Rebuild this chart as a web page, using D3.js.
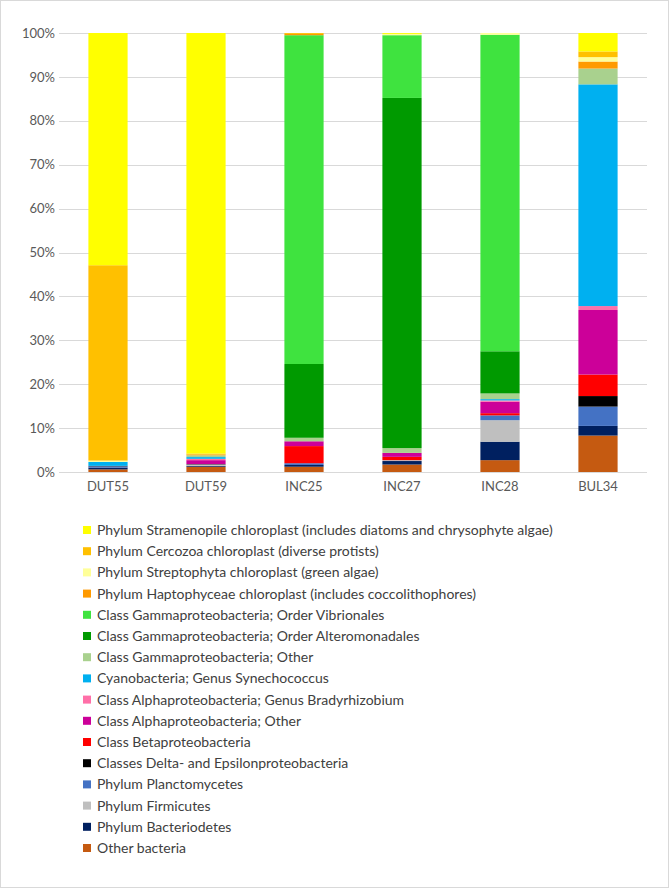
<!DOCTYPE html>
<html>
<head>
<meta charset="utf-8">
<script src="https://cdn.jsdelivr.net/npm/d3@7"></script>
<style>
  html, body { margin: 0; padding: 0; background: #fff; }
  svg { display: block; font-family: Lato, "Open Sans", sans-serif; }
</style>
</head>
<body>
<svg id="chart" width="669" height="888"></svg>
<script>
const categories = ["DUT55", "DUT59", "INC25", "INC27", "INC28", "BUL34"];

// Series listed from the bottom of each stack to the top (values in %)
const otherBacteria   = [0.6, 1.2, 1.2, 1.7, 2.7, 8.3];
const bacteriodetes   = [0.4, 0.2, 0.4, 0.8, 4.2, 2.2];
const firmicutes      = [0.0, 0.3, 0.0, 0.2, 4.9, 0.0];
const planctomycetes  = [0.3, 0.0, 0.4, 0.0, 1.1, 4.4];
const deltaEpsilon    = [0.1, 0.1, 0.0, 0.0, 0.0, 2.4];
const betaproteo      = [0.0, 0.0, 3.9, 0.75, 0.5, 4.9];
const alphaOther      = [0.0, 0.9, 1.1, 0.9, 2.6, 14.7];
const bradyrhizobium  = [0.0, 0.3, 0.0, 0.0, 0.3, 0.9];
const synechococcus   = [0.9, 0.4, 0.0, 0.0, 0.3, 50.5];
const gammaOther      = [0.0, 0.4, 0.8, 1.1, 1.3, 3.6];
const alteromonadales = [0.0, 0.0, 16.8, 79.8, 9.6, 0.0];
const vibrionales     = [0.0, 0.0, 74.9, 14.3, 72.1, 0.0];
const haptophyceae    = [0.0, 0.2, 0.3, 0.0, 0.0, 1.6];
const streptophyta    = [0.3, 0.0, 0.0, 0.3, 0.4, 1.0];
const cercozoa        = [44.5, 0.2, 0.2, 0.0, 0.0, 1.3];
const stramenopile    = [52.9, 95.8, 0.0, 0.2, 0.0, 4.2];

const yTicks = [0, 0.1, 0.2, 0.3, 0.4, 0.5, 0.6, 0.7, 0.8, 0.9, 1.0];

// Legend order (top to bottom), same as the stack from top to bottom
const seriesNames = [
  "Phylum Stramenopile chloroplast (includes diatoms and chrysophyte algae)",
  "Phylum Cercozoa chloroplast (diverse protists)",
  "Phylum Streptophyta chloroplast (green algae)",
  "Phylum Haptophyceae chloroplast (includes coccolithophores)",
  "Class Gammaproteobacteria; Order Vibrionales",
  "Class Gammaproteobacteria; Order Alteromonadales",
  "Class Gammaproteobacteria; Other",
  "Cyanobacteria; Genus Synechococcus",
  "Class Alphaproteobacteria; Genus Bradyrhizobium",
  "Class Alphaproteobacteria; Other",
  "Class Betaproteobacteria",
  "Classes Delta- and Epsilonproteobacteria",
  "Phylum Planctomycetes",
  "Phylum Firmicutes",
  "Phylum Bacteriodetes",
  "Other bacteria"
];
const seriesValues = [
  stramenopile, cercozoa, streptophyta, haptophyceae, vibrionales, alteromonadales,
  gammaOther, synechococcus, bradyrhizobium, alphaOther, betaproteo, deltaEpsilon,
  planctomycetes, firmicutes, bacteriodetes, otherBacteria
];
const seriesColors = [
  "#FFFF00", "#FFC000", "#FFFF99", "#FF9A00", "#3FE33F", "#009A00",
  "#A9D18E", "#00B0F0", "#FF6FA8", "#CC0099", "#FF0000", "#000000",
  "#4472C4", "#BFBFBF", "#002060", "#C55A11"
];

// Build table for the stack
const stackKeys = seriesNames.slice().reverse(); // bottom -> top
const table = categories.map((c, i) => {
  const row = { category: c };
  seriesNames.forEach((n, j) => { row[n] = seriesValues[j][i]; });
  return row;
});
const colorOf = d3.scaleOrdinal().domain(seriesNames).range(seriesColors);

const stacked = d3.stack().keys(stackKeys).offset(d3.stackOffsetExpand)(table);

const svg = d3.select("#chart");

// outer border
svg.append("rect").attr("x", 0.5).attr("y", 0.5).attr("width", 668).attr("height", 887)
  .attr("fill", "#fff").attr("stroke", "#D9D9D9");

const plot = { left: 59, right: 647, top: 33, bottom: 472 };

const x = d3.scaleBand().domain(categories).range([plot.left, plot.right]).paddingInner(0.6).paddingOuter(0.3);
const y = d3.scaleLinear().domain([0, 1]).range([plot.bottom, plot.top]);

// gridlines
svg.append("g").selectAll("line").data(yTicks).join("line")
  .attr("x1", plot.left).attr("x2", plot.right)
  .attr("y1", d => Math.round(y(d)) + 0.5).attr("y2", d => Math.round(y(d)) + 0.5)
  .attr("stroke", "#D9D9D9").attr("stroke-width", 1);

// y axis labels
const yAxis = d3.axisLeft(y).tickValues(yTicks).tickFormat(d3.format(".0%")).tickSize(0).tickPadding(4);
const gy = svg.append("g").attr("transform", `translate(${plot.left},0)`).call(yAxis);
gy.select(".domain").remove();
gy.selectAll("text").attr("fill", "#595959").style("font-size", "13px").style("font-family", "Lato, sans-serif");

// bars
svg.append("g").selectAll("g").data(stacked).join("g")
  .attr("fill", d => colorOf(d.key))
  .selectAll("rect").data(d => d).join("rect")
  .attr("x", d => x(d.data.category))
  .attr("width", x.bandwidth())
  .attr("y", d => y(d[1]))
  .attr("height", d => Math.max(0, y(d[0]) - y(d[1])));

// x axis labels
const xAxis = d3.axisBottom(x).tickSize(0).tickPadding(10);
const gx = svg.append("g").attr("transform", `translate(0,${plot.bottom})`).call(xAxis);
gx.select(".domain").remove();
gx.selectAll("text").attr("fill", "#595959").style("font-size", "13px").style("font-family", "Lato, sans-serif");

// legend
const legendY = d3.scalePoint().domain(seriesNames).range([530, 848]);
const lg = svg.append("g").selectAll("g").data(seriesNames).join("g")
  .attr("transform", d => `translate(83,${legendY(d)})`);
lg.append("rect").attr("x", 0).attr("y", -4).attr("width", 8).attr("height", 8)
  .attr("fill", d => colorOf(d));
lg.append("text").attr("x", 14).attr("y", 0).attr("dy", "0.35em")
  .attr("fill", "#404040").style("font-size", "14px").style("font-family", "Lato, sans-serif")
  .text(d => d);
</script>
</body>
</html>
